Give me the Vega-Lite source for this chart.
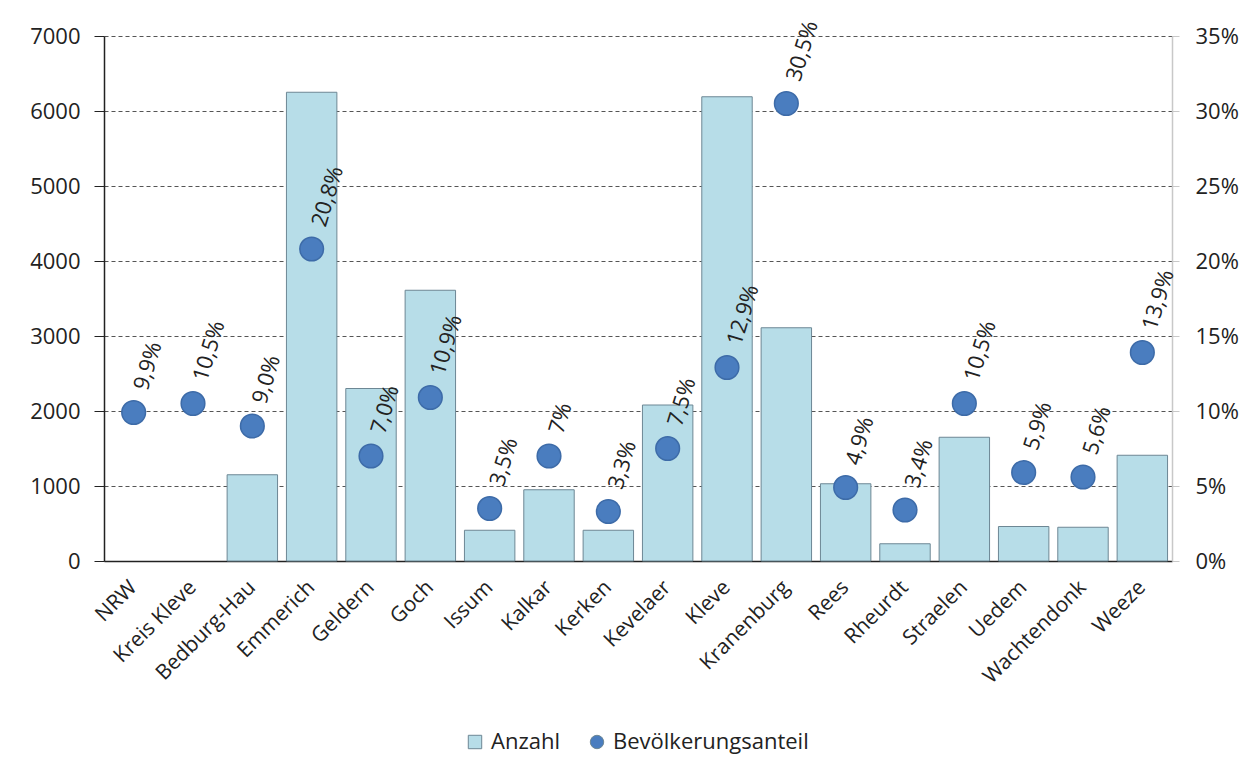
{
  "$schema": "https://vega.github.io/schema/vega-lite/v6.json",
  "width": 1068,
  "height": 525,
  "autosize": {"type": "none"},
  "padding": {"left": 104, "top": 36, "right": 72, "bottom": 210},
  "background": "white",
  "data": {"values": [
    {"ort": "NRW", "anzahl": null, "anteil": 0.099, "lbl": "9,9%"},
    {"ort": "Kreis Kleve", "anzahl": null, "anteil": 0.105, "lbl": "10,5%"},
    {"ort": "Bedburg-Hau", "anzahl": 1150, "anteil": 0.09, "lbl": "9,0%"},
    {"ort": "Emmerich", "anzahl": 6250, "anteil": 0.208, "lbl": "20,8%"},
    {"ort": "Geldern", "anzahl": 2300, "anteil": 0.07, "lbl": "7,0%"},
    {"ort": "Goch", "anzahl": 3610, "anteil": 0.109, "lbl": "10,9%"},
    {"ort": "Issum", "anzahl": 410, "anteil": 0.035, "lbl": "3,5%"},
    {"ort": "Kalkar", "anzahl": 950, "anteil": 0.07, "lbl": "7%"},
    {"ort": "Kerken", "anzahl": 410, "anteil": 0.033, "lbl": "3,3%"},
    {"ort": "Kevelaer", "anzahl": 2080, "anteil": 0.075, "lbl": "7,5%"},
    {"ort": "Kleve", "anzahl": 6190, "anteil": 0.129, "lbl": "12,9%"},
    {"ort": "Kranenburg", "anzahl": 3110, "anteil": 0.305, "lbl": "30,5%"},
    {"ort": "Rees", "anzahl": 1030, "anteil": 0.049, "lbl": "4,9%"},
    {"ort": "Rheurdt", "anzahl": 230, "anteil": 0.034, "lbl": "3,4%"},
    {"ort": "Straelen", "anzahl": 1650, "anteil": 0.105, "lbl": "10,5%"},
    {"ort": "Uedem", "anzahl": 460, "anteil": 0.059, "lbl": "5,9%"},
    {"ort": "Wachtendonk", "anzahl": 450, "anteil": 0.056, "lbl": "5,6%"},
    {"ort": "Weeze", "anzahl": 1410, "anteil": 0.139, "lbl": "13,9%"}
  ]},
  "encoding": {
    "x": {
      "field": "ort", "type": "nominal",
      "sort": ["NRW", "Kreis Kleve", "Bedburg-Hau", "Emmerich", "Geldern", "Goch", "Issum", "Kalkar", "Kerken", "Kevelaer", "Kleve", "Kranenburg", "Rees", "Rheurdt", "Straelen", "Uedem", "Wachtendonk", "Weeze"],
      "scale": {"paddingInner": 0.15, "paddingOuter": 0.075},
      "axis": {
        "title": null, "labelAngle": -45, "labelAlign": "right", "labelBaseline": "middle",
        "labelFontSize": 21, "labelFont": "Open Sans", "labelColor": "#222",
        "labelPadding": 23, "ticks": false, "domainColor": "#222", "domainWidth": 1.5,
        "labelLimit": 0
      }
    }
  },
  "layer": [
    {
      "mark": {"type": "bar", "stroke": "#6d8794", "strokeWidth": 1},
      "encoding": {
        "y": {
          "field": "anzahl", "type": "quantitative",
          "scale": {"domain": [0, 7000], "nice": false},
          "axis": {
            "title": null, "values": [0, 1000, 2000, 3000, 4000, 5000, 6000, 7000],
            "labelFontSize": 22, "labelFont": "Open Sans", "labelColor": "#222",
            "domainColor": "#222", "domainWidth": 1.5, "tickColor": "#222", "tickSize": 10,
            "labelPadding": 14, "format": "d",
            "grid": true, "gridDash": [4, 3], "gridColor": "#555", "gridWidth": 1.2
          }
        },
        "fill": {
          "datum": "Anzahl",
          "scale": {"domain": ["Anzahl", "Bevölkerungsanteil"], "range": ["#b7dde8", "#4a7dbf"]},
          "legend": {
            "title": null, "orient": "none", "legendX": 360, "legendY": 695,
            "direction": "horizontal", "labelFontSize": 22, "labelFont": "Open Sans",
            "labelColor": "#222", "symbolSize": 180, "columnPadding": 26, "labelOffset": 5,
            "labelLimit": 0, "symbolStrokeWidth": 1,
            "encode": {
              "symbols": {
                "update": {
                  "stroke": {"value": {"expr": "datum.label == 'Anzahl' ? '#6d8794' : '#3d6ba8'"}}
                }
              }
            }
          }
        }
      }
    },
    {
      "mark": {"type": "point", "filled": true, "size": 560, "stroke": "#3d6ba8", "strokeWidth": 1.5, "opacity": 1},
      "encoding": {
        "y": {
          "field": "anteil", "type": "quantitative",
          "scale": {"domain": [0, 0.35], "nice": false},
          "axis": {
            "title": null, "orient": "right",
            "values": [0, 0.05, 0.1, 0.15, 0.2, 0.25, 0.3, 0.35], "format": ".0%",
            "labelFontSize": 22, "labelFont": "Open Sans", "labelColor": "#222",
            "domainColor": "#c8c8c8", "domainWidth": 1.5, "tickColor": "#c8c8c8", "tickSize": 7,
            "labelPadding": 16, "grid": false
          }
        },
        "fill": {"datum": "Bevölkerungsanteil"},
        "shape": {
          "datum": "Bevölkerungsanteil",
          "scale": {"domain": ["Anzahl", "Bevölkerungsanteil"], "range": ["square", "circle"]},
          "legend": {"title": null}
        }
      }
    },
    {
      "mark": {"type": "text", "angle": -73, "align": "left", "baseline": "middle", "dx": 24, "fontSize": 22, "font": "Open Sans", "color": "#222"},
      "encoding": {
        "y": {"field": "anteil", "type": "quantitative", "scale": {"domain": [0, 0.35], "nice": false}, "axis": null},
        "text": {"field": "lbl"}
      }
    }
  ],
  "resolve": {"scale": {"y": "independent"}},
  "config": {"view": {"stroke": null}}
}
